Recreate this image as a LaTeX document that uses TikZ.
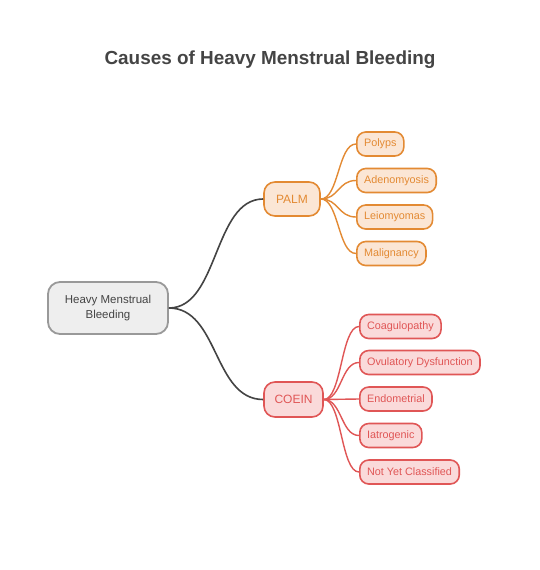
\documentclass[tikz,border=0pt]{standalone}
\usepackage{fontspec}
\setmainfont{Liberation Sans}
\begin{document}
\begin{tikzpicture}[x=1pt,y=-1pt,
  rootbox/.style={draw=rootline,fill=rootfill,line width=1.8pt,rounded corners=12pt,
    minimum width=120pt,minimum height=52pt,align=center,text=titlegray,font=\fontsize{11.5}{14.5}\selectfont},
  palmbox/.style={draw=orline,fill=orfill,line width=1.6pt,rounded corners=11pt,
    minimum height=34pt,minimum width=56pt,text=orline,font=\fontsize{12}{14}\selectfont},
  coeinbox/.style={draw=redline,fill=redfill,line width=1.6pt,rounded corners=11pt,
    minimum height=35pt,minimum width=59pt,text=redline,font=\fontsize{12}{14}\selectfont},
  orleaf/.style={draw=orline,fill=orfill,line width=1.6pt,rounded corners=9pt,
    minimum height=24pt,inner xsep=7.3pt,text=orline,anchor=west,font=\fontsize{10.8}{12}\selectfont},
  redleaf/.style={draw=redline,fill=redfill,line width=1.6pt,rounded corners=9pt,
    minimum height=24pt,inner xsep=7.3pt,text=redline,anchor=west,font=\fontsize{10.8}{12}\selectfont},
  mainlink/.style={draw=linkgray,line width=1.6pt},
  orlink/.style={draw=orline,line width=1.4pt},
  redlink/.style={draw=redline,line width=1.4pt}
]
\definecolor{titlegray}{HTML}{444444}
\definecolor{rootline}{HTML}{999999}
\definecolor{rootfill}{HTML}{EEEEEE}
\definecolor{linkgray}{HTML}{444444}
\definecolor{orline}{HTML}{E38A33}
\definecolor{orfill}{HTML}{FBE6D5}
\definecolor{redline}{HTML}{E05656}
\definecolor{redfill}{HTML}{FADADA}
\useasboundingbox[fill=white] (0,0) rectangle (540,570);

\node[font=\bfseries\fontsize{18.9}{22}\selectfont,text=titlegray] (title) at (270,60) {Causes of Heavy Menstrual Bleeding};

\node[rootbox] (root) at (108,308) {Heavy Menstrual\\Bleeding};
\node[palmbox] (palm) at (292,199) {PALM};
\node[coeinbox] (coein) at (293.5,399.5) {COEIN};

\node[orleaf] (polyps) at (356,144) {Polyps};
\node[orleaf] (adeno) at (356,180.5) {Adenomyosis};
\node[orleaf] (leio) at (356,217) {Leiomyomas};
\node[orleaf] (malig) at (356,253.5) {Malignancy};

\node[redleaf] (coag) at (359,326.5) {Coagulopathy};
\node[redleaf] (ovul) at (359,362.5) {Ovulatory Dysfunction};
\node[redleaf] (endo) at (359,399) {Endometrial};
\node[redleaf] (iatro) at (359,435.5) {Iatrogenic};
\node[redleaf] (nyc) at (359,472) {Not Yet Classified};

\draw[mainlink] (root.east) .. controls +(50,0) and +(-50,0) .. (palm.west);
\draw[mainlink] (root.east) .. controls +(50,0) and +(-50,0) .. (coein.west);

\foreach \c in {polyps,adeno,leio,malig}
  \draw[orlink] (palm.east) .. controls +(18,0) and +(-18,0) .. (\c.west);
\foreach \c in {coag,ovul,endo,iatro,nyc}
  \draw[redlink] (coein.east) .. controls +(18,0) and +(-18,0) .. (\c.west);
\end{tikzpicture}
\end{document}
